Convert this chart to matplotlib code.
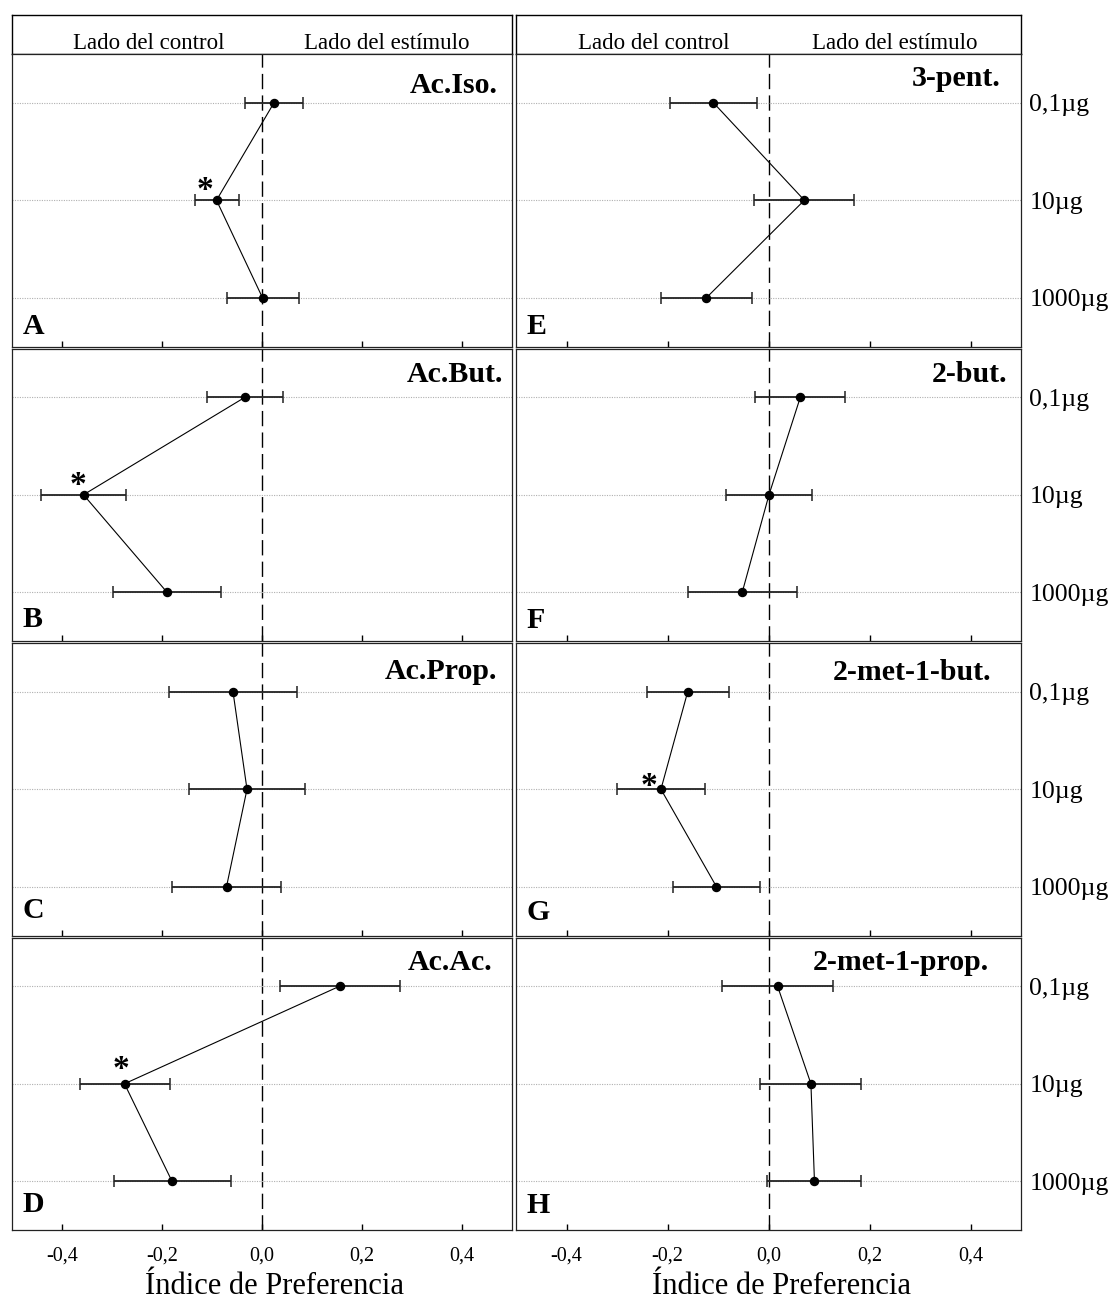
import numpy as np
import matplotlib.pyplot as plt

plt.rcParams['font.family'] = ['Liberation Serif', 'DejaVu Serif']

# Dose levels, top to bottom
DOSES = ["0,1µg", "10µg", "1000µg"]

# Panels: left column A-D, right column E-H
LETTERS = ["A", "B", "C", "D", "E", "F", "G", "H"]
COMPOUNDS = ["Ac.Iso.", "Ac.But.", "Ac.Prop.", "Ac.Ac.",
             "3-pent.", "2-but.", "2-met-1-but.", "2-met-1-prop."]

# Preference index (mean) per dose
MEANS = [
    [0.024, -0.091, 0.001],
    [-0.034, -0.357, -0.190],
    [-0.058, -0.030, -0.071],
    [0.155, -0.275, -0.180],
    [-0.109, 0.071, -0.123],
    [0.063, 0.001, -0.052],
    [-0.160, -0.213, -0.103],
    [0.018, 0.084, 0.091],
]
# half-width of the error bars
ERRORS = [
    [0.058, 0.044, 0.072],
    [0.076, 0.085, 0.108],
    [0.128, 0.116, 0.109],
    [0.120, 0.090, 0.117],
    [0.086, 0.099, 0.090],
    [0.089, 0.086, 0.108],
    [0.081, 0.087, 0.086],
    [0.110, 0.100, 0.093],
]
# significant points (panel index, dose index)
SIGNIFICANT = [(0, 1), (1, 1), (3, 1), (6, 1)]

XTICKS = [-0.4, -0.2, 0.0, 0.2, 0.4]
XTICK_LABELS = ["-0,4", "-0,2", "0,0", "0,2", "0,4"]
SIDES = ["Lado del control", "Lado del estímulo"]
XLABEL = "Índice de Preferencia"

# layout (pixels)
W, H = 1117, 1302
COLS = [(12, 512), (516, 1021)]
TOP, PANEL_H, GAP = 54, 292.5, 2
HEADER_TOP = 15
NAME_INSET = [14, 9, 15, 19, 20, 14, 30, 32]
NAME_BASE = [39, 34, 36, 33, 32, 34, 37, 33]
LETTER_BASE = [13, 14, 17, 18, 13, 13, 15, 17]
STAR_OFFSET = {0: (-12, 1), 1: (-6, 0.5), 3: (-4, 6), 6: (-12, -6)}

fig = plt.figure(figsize=(W / 100, H / 100), dpi=100)


def px_axes(x0, y0, x1, y1):
    return fig.add_axes([x0 / W, 1 - y1 / H, (x1 - x0) / W, (y1 - y0) / H])


ypos = np.arange(len(DOSES))

for col, (x0, x1) in enumerate(COLS):
    # header box with the two side labels
    hax = px_axes(x0, HEADER_TOP, x1, TOP)
    hax.set_xlim(-0.5, 0.5)
    hax.set_ylim(0, 1)
    hax.set_xticks([])
    hax.set_yticks([])
    for s in hax.spines.values():
        s.set_linewidth(1.0)
    hax.text(-0.227, 5 / (TOP - HEADER_TOP), SIDES[0], ha='center', va='baseline', fontsize=16.5)
    hax.text(0.25, 5 / (TOP - HEADER_TOP), SIDES[1], ha='center', va='baseline', fontsize=16.5)

    for row in range(4):
        i = col * 4 + row
        y0 = TOP + row * (PANEL_H + GAP)
        ax = px_axes(x0, y0, x1, y0 + PANEL_H)
        ax.set_xlim(-0.5, 0.5)
        ax.set_ylim(2.5, -0.5)

        ax.set_yticks(ypos)
        ax.grid(axis='y', color='#b0b0b0', lw=0.8, ls=(0, (1, 1.2)), zorder=0)
        ax.axvline(0, color='black', lw=1.0, ls=(0, (11, 4.5)), zorder=1)

        ax.errorbar(MEANS[i], ypos, xerr=ERRORS[i], fmt='none', ecolor='#222222',
                    elinewidth=1.3, capsize=4.5, capthick=1.1, zorder=2)
        ax.plot(MEANS[i], ypos, color='black', lw=0.8, zorder=3)
        ax.plot(MEANS[i], ypos, 'o', color='black', ms=5.8, zorder=4)

        for (p, d) in SIGNIFICANT:
            if p == i:
                dx, dy = STAR_OFFSET[p]
                ax.annotate('*', xy=(MEANS[i][d], ypos[d]), xytext=(dx, dy),
                            textcoords='offset pixels', ha='center', va='baseline',
                            fontsize=24, fontweight='bold')

        pw = x1 - x0
        ax.text(1 - NAME_INSET[i] / pw, 1 - NAME_BASE[i] / PANEL_H, COMPOUNDS[i],
                transform=ax.transAxes, ha='right', va='baseline',
                fontsize=21.5, fontweight='bold')
        ax.text(10.5 / pw, LETTER_BASE[i] / PANEL_H, LETTERS[i],
                transform=ax.transAxes, ha='left', va='baseline',
                fontsize=21.5, fontweight='bold')

        ax.set_xticks(XTICKS)
        ax.tick_params(axis='x', direction='in', length=4, width=1.0,
                       top=False, bottom=True, pad=12)
        if row == 3:
            ax.set_xticklabels(XTICK_LABELS, fontsize=14.5)
            ax.text(0.525, -(1294 - 1230) / PANEL_H, XLABEL, transform=ax.transAxes,
                    ha='center', va='baseline', fontsize=22)
        else:
            ax.set_xticklabels([])

        if col == 1:
            ax.yaxis.tick_right()
            ax.set_yticklabels(DOSES, fontsize=18.5)
            ax.tick_params(axis='y', length=0, pad=6)
        else:
            ax.tick_params(axis='y', length=0, labelleft=False)

        for s in ax.spines.values():
            s.set_linewidth(0.9)
            s.set_color('#222222')

fig.savefig("out.png", dpi=100)
